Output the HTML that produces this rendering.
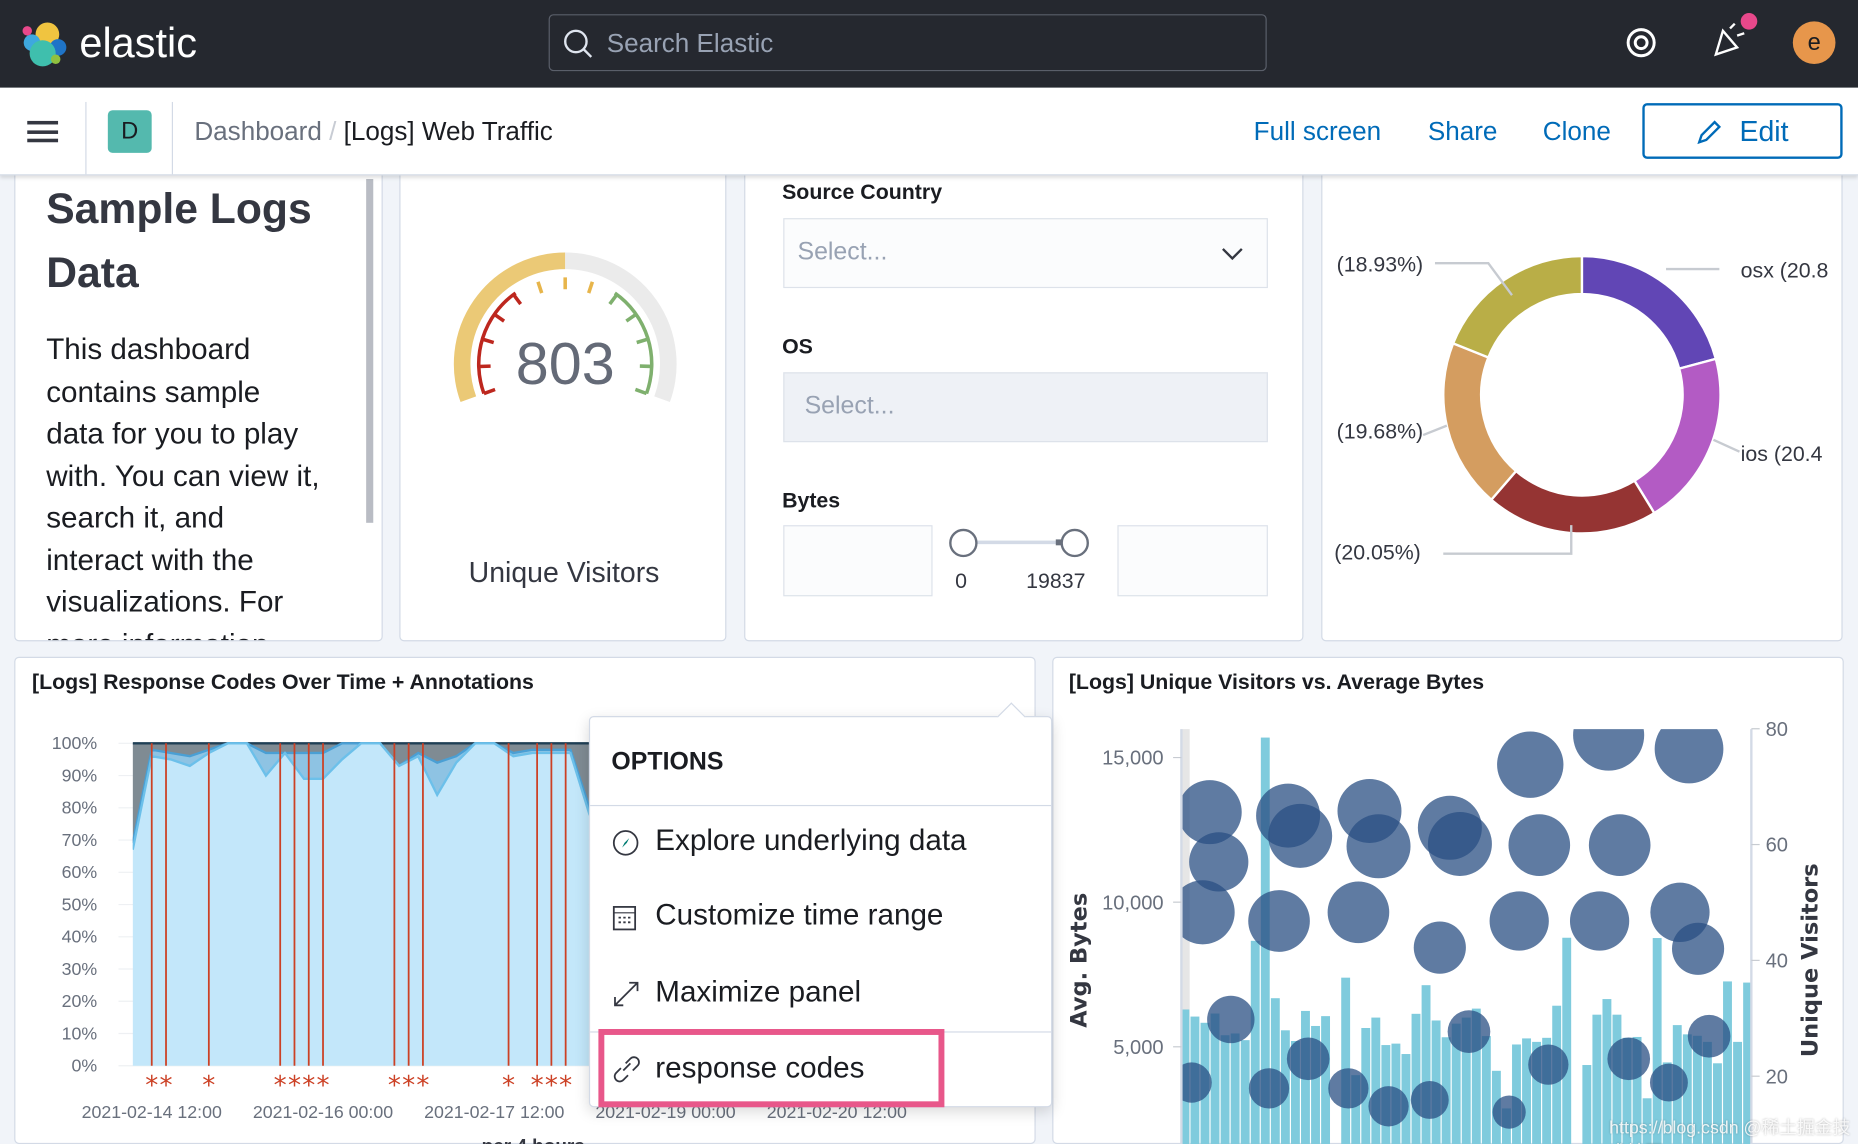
<!DOCTYPE html>
<html><head><meta charset="utf-8">
<style>
html,body{margin:0;padding:0;width:1858px;height:1144px;overflow:hidden;background:#f1f4f9;}
#root{position:absolute;left:0;top:0;width:1568px;height:965px;transform:scale(1.18495,1.1855);transform-origin:0 0;font-family:"Liberation Sans","Noto Sans CJK SC",sans-serif;color:#1a1c21;overflow:hidden;background:#f1f4f9;}
.abs{position:absolute;}
.panel{position:absolute;background:#fff;border:1px solid #d3dae6;border-radius:4px;box-sizing:border-box;overflow:hidden;}
.lbl{font-weight:bold;font-size:18px;color:#1a1c21;}
.sel{position:absolute;box-sizing:border-box;border:1px solid #dde2ea;font-size:21px;color:#98a2b3;}
.mi{position:absolute;left:55px;font-size:25px;color:#1a1c21;}
</style></head><body>
<div id="root">
<div class="abs" style="left:0;top:0;width:1568px;height:74px;background:#25282f;z-index:5;">
  <svg class="abs" style="left:16px;top:16px" width="42" height="42" viewBox="0 0 42 42">
    <circle cx="24" cy="13" r="10" fill="#f0c440"/><circle cx="11" cy="20" r="7" fill="#3ea8de"/><circle cx="33" cy="24" r="7" fill="#1f74c7"/><circle cx="20" cy="29" r="11" fill="#3fbfad"/><circle cx="7" cy="10" r="4" fill="#e8488b"/><circle cx="31" cy="34" r="4" fill="#90c13f"/>
  </svg>
  <div class="abs" style="left:67px;top:17px;font-size:35px;color:#fff;">elastic</div>
  <div class="abs" style="left:463px;top:12px;width:606px;height:48px;box-sizing:border-box;border:1px solid #5a5f6a;border-radius:4px;background:#25282f;">
    <svg class="abs" style="left:10px;top:10px" width="28" height="28"><circle cx="12" cy="12" r="9" fill="none" stroke="#dfe5ef" stroke-width="2"/><line x1="18" y1="18" x2="25" y2="25" stroke="#dfe5ef" stroke-width="2"/></svg>
    <div class="abs" style="left:48px;top:11px;font-size:22px;color:#98a2b3;">Search Elastic</div>
  </div>
  <svg class="abs" style="left:1371px;top:22px" width="28" height="28"><circle cx="14" cy="14" r="11" fill="none" stroke="#fff" stroke-width="2.5"/><circle cx="14" cy="14" r="5" fill="none" stroke="#fff" stroke-width="2.5"/></svg>
  <svg class="abs" style="left:1444px;top:18px" width="36" height="32"><path d="M4 28 L10 8 L22 22 Z" fill="none" stroke="#fff" stroke-width="2"/><line x1="16" y1="6" x2="20" y2="2" stroke="#fff" stroke-width="2"/><line x1="22" y1="12" x2="28" y2="10" stroke="#fff" stroke-width="2"/></svg>
  <div class="abs" style="left:1469px;top:11px;width:14px;height:14px;border-radius:7px;background:#e8488b;"></div>
  <div class="abs" style="left:1513px;top:18px;width:36px;height:36px;border-radius:18px;background:#e7964b;color:#1a1c21;font-size:20px;text-align:center;line-height:36px;">e</div>
</div>
<div class="abs" style="left:0;top:74px;width:1568px;height:73px;background:#fff;box-shadow:0 2px 3px rgba(0,0,0,0.12);border-bottom:1px solid #d3dae6;z-index:5;">
  <div class="abs" style="left:23px;top:28px;width:26px;height:18px;border-top:3px solid #343741;border-bottom:3px solid #343741;box-sizing:border-box;"><div style="margin-top:4.5px;height:3px;background:#343741"></div></div>
  <div class="abs" style="left:72px;top:12px;width:1px;height:61px;background:#d3dae6"></div>
  <div class="abs" style="left:91px;top:19px;width:37px;height:36px;border-radius:4px;background:#54b9ae;text-align:center;line-height:36px;font-size:20px;">D</div>
  <div class="abs" style="left:145px;top:12px;width:1px;height:61px;background:#d3dae6"></div>
  <div class="abs" style="left:164px;top:24px;font-size:22px;color:#69707d;">Dashboard <span style="color:#c8ccd4">/</span> <span style="color:#1a1c21">[Logs] Web Traffic</span></div>
  <div class="abs" style="left:1058px;top:24px;font-size:22px;color:#006bb8;">Full screen</div>
  <div class="abs" style="left:1205px;top:24px;font-size:22px;color:#006bb8;">Share</div>
  <div class="abs" style="left:1302px;top:24px;font-size:22px;color:#006bb8;">Clone</div>
  <div class="abs" style="left:1386px;top:13px;width:169px;height:47px;box-sizing:border-box;border:2px solid #006bb8;border-radius:4px;color:#006bb8;font-size:24px;">
    <svg class="abs" style="left:42px;top:11px" width="24" height="24"><path d="M4 20 L6 14 L17 3 L21 7 L10 18 Z M4 20 L10 18" fill="none" stroke="#006bb8" stroke-width="2"/></svg>
    <div class="abs" style="left:80px;top:9px">Edit</div>
  </div>
</div>
<div class="panel" style="left:12px;top:130px;width:311px;height:411px;">
  <div class="abs" style="left:26px;top:18px;font-size:36px;font-weight:bold;line-height:54px;color:#343741;">Sample Logs<br>Data</div>
  <div class="abs" style="left:26px;top:147px;font-size:25px;line-height:35.5px;color:#1a1c21;width:232px;">This dashboard contains sample data for you to play with. You can view it, search it, and interact with the visualizations. For more information</div>
  <div class="abs" style="left:296px;top:20px;width:6px;height:290px;background:#b9bcc4;"></div>
</div>
<div class="panel" style="left:337px;top:130px;width:276px;height:411px;">
  <svg class="abs" id="gauge" style="left:0;top:0" width="276" height="411"></svg>
  <div class="abs" style="left:0;width:276px;top:339px;text-align:center;font-size:24px;color:#343741;">Unique Visitors</div>
</div>
<div class="panel" style="left:628px;top:130px;width:472px;height:411px;">
  <div class="abs lbl" style="left:31px;top:21px">Source Country</div>
  <div class="sel" style="left:32px;top:53px;width:409px;height:59px;background:#fbfcfd;"><span class="abs" style="left:11px;top:16px">Select...</span>
    <svg class="abs" style="left:368px;top:22px" width="20" height="14"><path d="M2 3 L10 11 L18 3" fill="none" stroke="#343741" stroke-width="2"/></svg></div>
  <div class="abs lbl" style="left:31px;top:151px">OS</div>
  <div class="sel" style="left:32px;top:183px;width:409px;height:59px;background:#eef1f6;"><span class="abs" style="left:17px;top:16px">Select...</span></div>
  <div class="abs lbl" style="left:31px;top:281px">Bytes</div>
  <div class="sel" style="left:32px;top:312px;width:126px;height:60px;background:#fbfcfd;"></div>
  <div class="sel" style="left:314px;top:312px;width:127px;height:60px;background:#fbfcfd;"></div>
  <div class="abs" style="left:184px;top:325px;width:94px;height:3px;background:#d3dae6;"></div>
  <div class="abs" style="left:262px;top:324px;width:16px;height:5px;background:#69707d;"></div>
  <div class="abs" style="left:172px;top:315px;width:20px;height:20px;border:2px solid #69707d;border-radius:12px;background:#fff;"></div>
  <div class="abs" style="left:266px;top:315px;width:20px;height:20px;border:2px solid #69707d;border-radius:12px;background:#fff;"></div>
  <div class="abs" style="left:177px;top:349px;font-size:18px;color:#343741">0</div>
  <div class="abs" style="left:237px;top:349px;font-size:18px;color:#343741">19837</div>
</div>
<div class="panel" style="left:1115px;top:130px;width:440px;height:411px;">
  <svg class="abs" id="donut" style="left:0;top:0" width="440" height="411"></svg>
</div>
<div class="panel" style="left:12px;top:554px;width:862px;height:411px;">
  <div class="abs" style="left:14px;top:10px;font-size:18px;font-weight:bold;">[Logs] Response Codes Over Time + Annotations</div>
</div>
<svg class="abs" id="area" style="left:0;top:600px" width="880" height="365"></svg>
<div class="panel" style="left:888px;top:554px;width:668px;height:411px;">
  <div class="abs" style="left:13px;top:10px;font-size:18px;font-weight:bold;">[Logs] Unique Visitors vs. Average Bytes</div>
</div>
<svg class="abs" id="combo" style="left:888px;top:590px" width="668" height="375"></svg>
<div class="abs" style="left:1358px;top:940px;font-size:15px;color:rgba(255,255,255,0.85);text-shadow:0 0 2px rgba(0,0,0,0.3);">https://blog.csdn @稀土掘金技术社区</div>
<div class="abs" style="left:497px;top:604px;width:389px;height:328px;background:#fff;border:1px solid #d3dae6;border-radius:4px;box-shadow:0 4px 12px rgba(0,0,0,0.15);">
  <div class="abs" style="left:347px;top:-9px;width:16px;height:16px;background:#fff;border-left:1px solid #d3dae6;border-top:1px solid #d3dae6;transform:rotate(45deg);"></div>
  <div class="abs" style="left:18px;top:26px;font-size:21px;font-weight:bold;">OPTIONS</div>
  <div class="abs" style="left:0;top:74px;width:389px;height:1px;background:#d3dae6"></div>
  <svg class="abs" style="left:18px;top:94px" width="26" height="26"><circle cx="12" cy="12" r="10" fill="none" stroke="#343741" stroke-width="1.5"/><path d="M15 8 L11 12 L9 16 L13 12 Z" fill="#017d73"/></svg>
  <div class="mi" style="top:90px">Explore underlying data</div>
  <svg class="abs" style="left:18px;top:156px" width="24" height="26"><rect x="2" y="4" width="18" height="19" fill="none" stroke="#343741" stroke-width="1.5"/><line x1="2" y1="9" x2="20" y2="9" stroke="#343741"/><path d="M6 13h2M10 13h2M14 13h2M6 17h2M10 17h2M14 17h2" stroke="#343741" stroke-width="1.5"/></svg>
  <div class="mi" style="top:153px">Customize time range</div>
  <svg class="abs" style="left:18px;top:220px" width="26" height="26"><path d="M3 23 L22 4 M15 4h7v7 M3 16v7h7" fill="none" stroke="#343741" stroke-width="1.5"/></svg>
  <div class="mi" style="top:218px">Maximize panel</div>
  <div class="abs" style="left:0;top:265px;width:389px;height:1px;background:#d3dae6"></div>
  <svg class="abs" style="left:18px;top:284px" width="26" height="26"><path d="M10 14 L16 8 M8 12 L4 16 a4 4 0 0 0 6 6 L14 18 M12 8 L16 4 a4 4 0 0 1 6 6 L18 14" fill="none" stroke="#343741" stroke-width="1.5"/></svg>
  <div class="mi" style="top:282px">response codes</div>
</div>
<div class="abs" style="left:505px;top:868px;width:292px;height:66px;box-sizing:border-box;border:5px solid #e8578a;"></div>
</div>

<script>
const NS='http://www.w3.org/2000/svg';
function mk(parent,tag,attrs){const e=document.createElementNS(NS,tag);for(const k in attrs)e.setAttribute(k,attrs[k]);parent.appendChild(e);return e;}

const gaugeValue=803;
(function(){
 const g=document.getElementById('gauge');const cx=139,cy=176;
 function P(r,a){const t=a*Math.PI/180;return [cx+r*Math.cos(t),cy-r*Math.sin(t)];}
 function arc(r,a0,a1,col,w,name){const p0=P(r,a0),p1=P(r,a1);const large=(a0-a1)>180?1:0;
  const e=mk(g,'path',{d:`M${p0[0]} ${p0[1]} A${r} ${r} 0 ${large} 1 ${p1[0]} ${p1[1]}`,fill:'none',stroke:col,'stroke-width':w});
  }
 arc(87,200,90,'#ebc976',14,'gauge-fill');arc(87,90,-20,'#ebebeb',14,'gauge-rest');
 arc(73,200,125,'#bd271e',3,'gauge-band-red');arc(73,55,-20,'#7fb06e',3,'gauge-band-green');
 for(let a=200;a>=-20;a-=18.33){let col=a>125?'#bd271e':(a>55?'#e7b54b':'#7fb06e');const p0=P(73,a),p1=P(63,a);
  const t=mk(g,'line',{x1:p0[0],y1:p0[1],x2:p1[0],y2:p1[1],stroke:col,'stroke-width':3});
  }
 const tx=mk(g,'text',{x:cx,y:cy+17,'text-anchor':'middle','font-size':50,fill:'#646a77','font-family':'Liberation Sans'});tx.textContent=gaugeValue;
 
})();

const pieLabels=['osx','ios','win 8','win xp','win 7'];
const pieValues=[20.8,20.4,20.05,19.68,18.93];
const pieColors=['#6146b5','#b35bc4','#953433','#d49d60','#b9ae47'];
(function(){
 const g=document.getElementById('donut');const cx=219,cy=202,R=117,r=85;
 const tot=pieValues.reduce((a,b)=>a+b,0);let a=0;
 function P(rr,deg){const t=deg*Math.PI/180;return [cx+rr*Math.sin(t),cy-rr*Math.cos(t)];}
 pieValues.forEach((v,i)=>{const a1=a+v/tot*360;const o0=P(R,a),o1=P(R,a1),i1=P(r,a1),i0=P(r,a);
  const s=mk(g,'path',{d:`M${o0[0]} ${o0[1]} A${R} ${R} 0 0 1 ${o1[0]} ${o1[1]} L${i1[0]} ${i1[1]} A${r} ${r} 0 0 0 ${i0[0]} ${i0[1]}Z`,fill:pieColors[i],stroke:'#fff','stroke-width':2});
  a=a1;});
 const lines=[[[95,91],[140,91],[160,118]],[[290,96],[335,96]],[[85,236],[105,228]],[[330,240],[352,250]],[[102,336],[210,336],[210,312]]];
 lines.forEach(l=>{mk(g,'polyline',{points:l.map(p=>p.join(',')).join(' '),fill:'none',stroke:'#c7cbd1','stroke-width':2});});
 const labs=[[12,98,'(18.93%)'],[353,103,'osx (20.8'],[12,239,'(19.68%)'],[353,258,'ios (20.4'],[10,341,'(20.05%)']];
 labs.forEach(L=>{const t=mk(g,'text',{x:L[0],y:L[1],'font-size':18,fill:'#343741','font-family':'Liberation Sans'});t.textContent=L[2];
  });
})();

const s200=[67,96,95,93,97,100,100,90,97,89,89,95,100,100,93,96,84,94,100,100,96,97,97,97,78,66];
const s404=[2,2,2,3,1,0,0,7,0,8,8,5,0,0,0,1,10,2,0,0,1,1,1,1,2,2];
const s503=[31,2,3,4,2,0,0,3,3,3,3,0,0,0,7,3,6,4,0,0,3,2,2,2,20,32];
const yTicks=[0,10,20,30,40,50,60,70,80,90,100];
const xTickLabels=['2021-02-14 12:00','2021-02-16 00:00','2021-02-17 12:00','2021-02-19 00:00','2021-02-20 12:00'];
const xTickBuckets=[1,10,19,28,37];
const annotations=[1,1.75,4,7.75,8.5,9.25,10,13.75,14.5,15.25,19.75,21.25,22,22.75];
(function(){
 const g=document.getElementById('area');const oy=600;
 const X=i=>112+16.06*i, Y=p=>899-oy-p*2.72;
 yTicks.forEach(t=>{mk(g,'line',{x1:100,x2:500,y1:Y(t),y2:Y(t),stroke:'#eef0f3'});
  const tx=mk(g,'text',{x:82,y:Y(t)+5,'text-anchor':'end','font-size':15,fill:'#69707d','font-family':'Liberation Sans'});tx.textContent=t+'%';
  });
 const cp=mk(g,'clipPath',{id:'ac'});mk(cp,'rect',{x:112,y:0,width:385,height:300});
 const grp=mk(g,'g',{'clip-path':'url(#ac)'});
 function band(lo,hi,fill,stroke,name){let top=[],bot=[];
  for(let i=0;i<s200.length;i++){top.push(X(i)+','+Y(hi[i]));bot.unshift(X(i)+','+Y(lo[i]));}
  const p=mk(grp,'polygon',{points:top.concat(bot).join(' '),fill:fill});
  mk(grp,'polyline',{points:top.join(' '),fill:'none',stroke:stroke,'stroke-width':2});}
 const zero=s200.map(()=>0), c1=s200.slice(), c2=s200.map((v,i)=>v+s404[i]), c3=c2.map((v,i)=>v+s503[i]);
 band(c2,c3,'#7f8b93','#1f3f55','series-503');
 band(c1,c2,'#8ec3e3','#4a9fd4','series-404');
 band(zero,c1,'#c3e7fa','#6cc0ea','series-200');
 annotations.forEach(a=>{const l=mk(g,'line',{x1:X(a),x2:X(a),y1:Y(100),y2:Y(0),stroke:'#cc4125','stroke-width':1.5});
  
  const s=mk(g,'text',{x:X(a),y:Y(0)+24,'text-anchor':'middle','font-size':22,fill:'#cc4125','font-family':'DejaVu Sans'});s.textContent='*';
  });
 xTickBuckets.forEach((b,i)=>{const t=mk(g,'text',{x:X(b),y:343,'text-anchor':'middle','font-size':15,fill:'#69707d','font-family':'Liberation Sans'});t.textContent=xTickLabels[i];
  });
 const xt=mk(g,'text',{x:450,y:372,'text-anchor':'middle','font-size':16,'font-weight':'bold',fill:'#343741','font-family':'Liberation Sans'});xt.textContent='per 4 hours';
 
})();

const barBytes=[6290,6045,5830,6150,5400,5460,5230,8665,15690,6680,5570,5200,6240,5720,6060,0,7390,4020,5650,6010,5060,5110,4750,6140,7130,5910,5330,5800,6010,6320,5370,4170,2870,5080,5290,5170,5310,6420,8770,0,4370,6110,6650,6110,5310,5340,3220,8760,4460,5750,5430,5380,5170,4430,7260,5170,7220];
const dotBucket=[2.5,3.4,1.8,10.3,11.5,9.4,18.4,19.3,17.3,26.4,27.4,25.4,34.4,35.3,33.3,42.2,43.3,41.3,50.2,49.3,51.1,4.6,0.7,8.4,12.3,16.3,20.3,24.4,28.3,32.3,36.2,44.2,48.2,52.2];
const dotVisitors=[65.6,57,48.3,65,61.5,46.8,65.8,59.7,48.3,62.9,60.1,42.2,73.8,59.9,46.8,78.9,59.9,46.8,76.5,48.3,42,29.8,18.9,17.9,23,17.9,14.8,15.9,27.7,13.8,22,23,18.9,26.9];
const dotSize=[27,25,27,27,27,26,27,27,26,27,27,22,28,26,25,30,26,25,29,25,22,20,17,17,18,17,17,16,18,14,17,18,16,18];
const leftTicks=[5000,10000,15000];
const rightTicks=[20,40,60,80];
(function(){
 const g=document.getElementById('combo');const ox=888,oy=590;
 const X=i=>995.7-ox+8.48*i, YL=v=>1005-oy-v*122/5000, YR=v=>1005.5-oy-v*97.7/20;
 const cp=mk(g,'clipPath',{id:'cc'});mk(cp,'rect',{x:997-ox,y:615-oy,width:482,height:400});
 mk(g,'rect',{x:997-ox,y:615-oy,width:7,height:400,fill:'#e6e6e6'});
 const grp=mk(g,'g',{'clip-path':'url(#cc)'});
 barBytes.forEach((v,i)=>{const r=mk(grp,'rect',{x:X(i)+0.5,y:YL(v),width:7.5,height:Math.max(0,YL(0)-YL(v)),fill:'#7fcbdd'});
  });
 dotBucket.forEach((b,i)=>{const c=mk(grp,'circle',{cx:X(b)+4,cy:YR(dotVisitors[i]),r:dotSize[i],fill:'#2a4f83','fill-opacity':0.75});
  });
 mk(g,'line',{x1:997-ox,x2:997-ox,y1:615-oy,y2:375,stroke:'#d3dae6','stroke-width':2});
 mk(g,'line',{x1:1478-ox,x2:1478-ox,y1:615-oy,y2:375,stroke:'#d3dae6','stroke-width':2});
 leftTicks.forEach(t=>{mk(g,'line',{x1:990-ox,x2:997-ox,y1:YL(t),y2:YL(t),stroke:'#c7cbd1'});
  const tx=mk(g,'text',{x:982-ox,y:YL(t)+6,'text-anchor':'end','font-size':17,fill:'#69707d','font-family':'Liberation Sans'});tx.textContent=t.toLocaleString('en-US');
  });
 rightTicks.forEach(t=>{mk(g,'line',{x1:1478-ox,x2:1485-ox,y1:YR(t),y2:YR(t),stroke:'#c7cbd1'});
  const tx=mk(g,'text',{x:1490-ox,y:YR(t)+6,'font-size':17,fill:'#69707d','font-family':'Liberation Sans'});tx.textContent=t;
  });
 const t1=mk(g,'text',{x:0,y:0,'font-size':19,'font-weight':'bold',fill:'#343741','text-anchor':'middle','font-family':'DejaVu Sans',transform:`translate(${917-ox},${810-oy}) rotate(-90)`});t1.textContent='Avg. Bytes';
 
 const t2=mk(g,'text',{x:0,y:0,'font-size':19,'font-weight':'bold',fill:'#343741','text-anchor':'middle','font-family':'DejaVu Sans',transform:`translate(${1534-ox},${810-oy}) rotate(-90)`});t2.textContent='Unique Visitors';
 
})();
</script>
</body></html>
